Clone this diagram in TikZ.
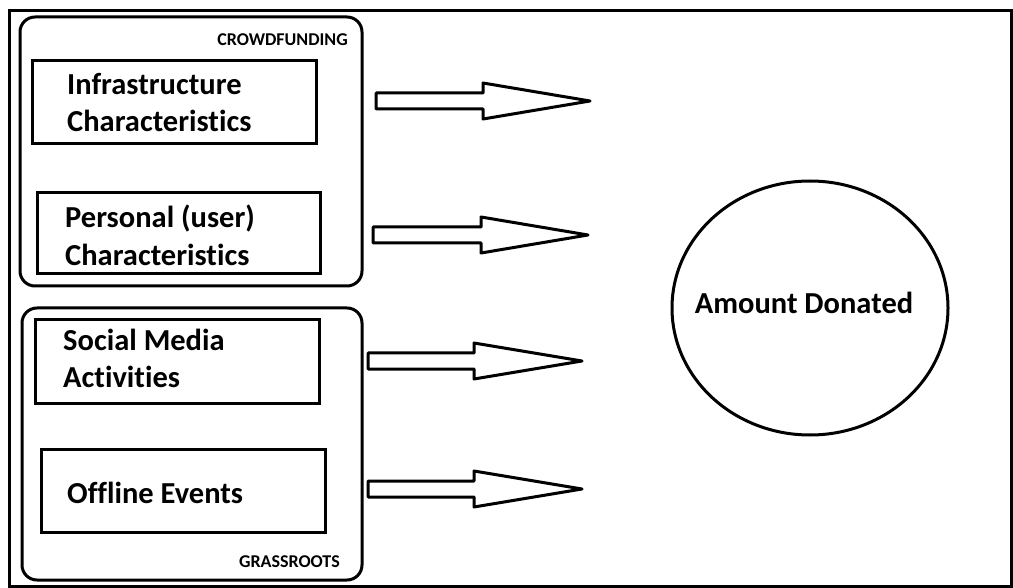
\documentclass[tikz,border=0pt]{standalone}
\usepackage{fontspec}
\setmainfont{Carlito}[Ligatures=NoCommon]
\begin{document}
\begin{tikzpicture}[x=1pt,y=-1pt,
  frame/.style={draw=black,line width=3pt},
  group/.style={draw=black,line width=3pt,rounded corners=15pt},
  factor/.style={draw=black,line width=3pt},
  bigtxt/.style={font=\bfseries\fontsize{30.5}{36}\selectfont,inner sep=0pt},
  smalltxt/.style={font=\bfseries\fontsize{18}{21}\selectfont,inner sep=0pt},
  fatarrow/.style={draw=black,line width=3pt,line join=round,fill=white}
]
\useasboundingbox (0,0) rectangle (1013,588);
\draw[frame] (9,11) rectangle (1011,586);

% groups
\draw[group] (20,17) rectangle (362,286);
\node[smalltxt,anchor=base east] (lcf) at (348,46) {CROWDFUNDING};
\draw[group] (22,308) rectangle (362,580);
\node[smalltxt,anchor=base east] (lgr) at (340,567) {GRASSROOTS};

% factor boxes
\draw[factor] (32,61) rectangle (316,144);
\node[bigtxt,anchor=base west] (t1a) at (67,95) {Infrastructure};
\node[bigtxt,anchor=base west] (t1b) at (67,132) {Characteristics};

\draw[factor] (37,193) rectangle (320,274);
\node[bigtxt,anchor=base west] (t2a) at (65,228) {Personal (user)};
\node[bigtxt,anchor=base west] (t2b) at (65,266) {Characteristics};

\draw[factor] (35,320) rectangle (319,403);
\node[bigtxt,anchor=base west] (t3a) at (63,351) {Social Media};
\node[bigtxt,anchor=base west] (t3b) at (63,388) {Activities};

\draw[factor] (41,449) rectangle (325,532);
\node[bigtxt,anchor=base west] (t4) at (67,503) {Offline Events};

% outcome
\draw[frame] (810,308) ellipse [x radius=138,y radius=127];
\node[bigtxt] (out) at (804,303) {Amount Donated};

% arrows
\foreach \xa/\xb/\xt/\yc in {376/483/590/101, 373/481/588/235, 368/474/582/361, 368/474/582/489}{
  \draw[fatarrow] (\xa,\yc-8) -- (\xb,\yc-8) -- (\xb,\yc-18) -- (\xt,\yc) -- (\xb,\yc+18) -- (\xb,\yc+8) -- (\xa,\yc+8) -- cycle;
}
\end{tikzpicture}
\end{document}
